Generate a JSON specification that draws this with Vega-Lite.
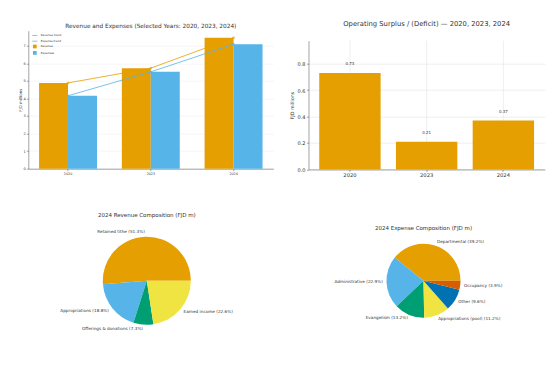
{
  "$schema": "https://vega.github.io/schema/vega-lite/v6.json",
  "background": "white",
  "padding": {"left": 17.3, "top": 20.7, "right": 5, "bottom": 5},
  "columns": 2,
  "bounds": "flush",
  "spacing": {"row": 65.3, "column": 35.2},
  "resolve": {"scale": {"color": "independent", "stroke": "independent", "theta": "independent"}, "legend": {"color": "independent", "stroke": "independent"}},
  "config": {
    "font": "DejaVu Sans",
    "view": {"stroke": null},
    "axis": {"labelFont": "DejaVu Sans", "titleFont": "DejaVu Sans", "domainColor": "#666", "tickColor": "#666", "labelColor": "#333", "titleColor": "#333", "titleFontWeight": "normal", "domainWidth": 0.6, "tickWidth": 0.6, "gridWidth": 0.5},
    "legend": {"labelFont": "DejaVu Sans", "labelColor": "#333"},
    "title": {"font": "DejaVu Sans", "fontWeight": "normal", "color": "#333"},
    "text": {"font": "DejaVu Sans"}
  },
  "datasets": {
    "fin": [
      {"year": "2020", "series": "Revenue", "trend": "Revenue trend", "value": 4.88},
      {"year": "2020", "series": "Expenses", "trend": "Expense trend", "value": 4.15},
      {"year": "2023", "series": "Revenue", "trend": "Revenue trend", "value": 5.72},
      {"year": "2023", "series": "Expenses", "trend": "Expense trend", "value": 5.51},
      {"year": "2024", "series": "Revenue", "trend": "Revenue trend", "value": 7.45},
      {"year": "2024", "series": "Expenses", "trend": "Expense trend", "value": 7.08}
    ],
    "surplus": [
      {"year": "2020", "surplus": 0.73},
      {"year": "2023", "surplus": 0.21},
      {"year": "2024", "surplus": 0.37}
    ],
    "rev": [
      {"category": "Retained tithe", "share": 51.3, "label": "Retained tithe (51.3%)"},
      {"category": "Appropriations", "share": 18.8, "label": "Appropriations (18.8%)"},
      {"category": "Offerings & donations", "share": 7.3, "label": "Offerings & donations (7.3%)"},
      {"category": "Earned income", "share": 22.6, "label": "Earned income (22.6%)"}
    ],
    "exp": [
      {"category": "Departmental", "share": 39.2, "label": "Departmental (39.2%)"},
      {"category": "Administrative", "share": 22.9, "label": "Administrative (22.9%)"},
      {"category": "Evangelism", "share": 13.2, "label": "Evangelism (13.2%)"},
      {"category": "Appropriations (pool)", "share": 11.2, "label": "Appropriations (pool) (11.2%)"},
      {"category": "Other", "share": 9.6, "label": "Other (9.6%)"},
      {"category": "Occupancy", "share": 3.9, "label": "Occupancy (3.9%)"}
    ]
  },
  "concat": [
    {
      "width": 245,
      "height": 138,
      "title": {"text": "Revenue and Expenses (Selected Years: 2020, 2023, 2024)", "fontSize": 5.8, "offset": 2},
      "data": {"name": "fin"},
      "encoding": {
        "x": {"field": "year", "type": "nominal", "scale": {"paddingInner": 0.3, "paddingOuter": 0.13},
          "axis": {"title": null, "labelAngle": 0, "labelFontSize": 3.3, "tickSize": 2, "labelPadding": 1}}
      },
      "layer": [
        {
          "mark": {"type": "bar"},
          "encoding": {
            "xOffset": {"field": "series", "type": "nominal", "sort": ["Revenue", "Expenses"]},
            "y": {"field": "value", "type": "quantitative", "scale": {"domain": [0, 7.85], "nice": false},
              "axis": {"title": "FJD millions", "titleFontSize": 4, "values": [0, 1, 2, 3, 4, 5, 6, 7], "labelFontSize": 3.5, "tickSize": 2, "labelPadding": 1, "titlePadding": 1, "grid": true, "gridColor": "#eeeeee"}},
            "color": {"field": "series", "type": "nominal", "scale": {"domain": ["Revenue", "Expenses"], "range": ["#E69F00", "#56B4E9"]},
              "legend": {"orient": "none", "legendX": 3.5, "legendY": 12.8, "title": null, "labelFontSize": 2.8, "symbolType": "square", "symbolSize": 14, "rowPadding": 1.4, "labelOffset": 3, "padding": 0}}
          }
        },
        {
          "mark": {"type": "line", "strokeWidth": 0.8, "point": {"filled": false, "size": 3, "strokeWidth": 0.8}},
          "encoding": {
            "y": {"field": "value", "type": "quantitative",
              "axis": {"title": "FJD millions", "titleFontSize": 4, "values": [0, 1, 2, 3, 4, 5, 6, 7], "labelFontSize": 3.5, "tickSize": 2, "labelPadding": 1, "titlePadding": 1, "grid": true, "gridColor": "#eeeeee"}},
            "stroke": {"field": "trend", "type": "nominal", "scale": {"domain": ["Revenue trend", "Expense trend"], "range": ["#E69F00", "#56B4E9"]},
              "legend": {"orient": "none", "legendX": 3.5, "legendY": 1.8, "title": null, "labelFontSize": 2.8, "symbolType": "stroke", "symbolSize": 25, "symbolStrokeWidth": 0.8, "rowPadding": 0.7, "labelOffset": 3, "padding": 0}}
          }
        }
      ]
    },
    {
      "width": 236.3,
      "height": 138.7,
      "title": {"text": "Operating Surplus / (Deficit) — 2020, 2023, 2024", "fontSize": 6.8, "offset": 2.5},
      "data": {"name": "surplus"},
      "encoding": {
        "x": {"field": "year", "type": "nominal", "scale": {"paddingInner": 0.2, "paddingOuter": 0.14},
          "axis": {"title": null, "labelAngle": 0, "labelFontSize": 5.2, "tickSize": 2, "labelPadding": 1.5}}
      },
      "layer": [
        {
          "mark": {"type": "rule", "color": "#dedede", "strokeWidth": 0.5},
          "encoding": {
            "y": {"datum": 0, "type": "quantitative", "scale": {"domain": [0, 0.975], "nice": false, "range": [138.7, 10]},
              "axis": {"title": "FJD millions", "titleFontSize": 4.8, "values": [0, 0.2, 0.4, 0.6, 0.8], "format": ".1f", "labelFontSize": 5, "grid": true, "gridColor": "#dedede", "tickSize": 2, "labelPadding": 1.5, "titlePadding": 3}},
            "y2": {"datum": 0.975}
          }
        },
        {
          "mark": {"type": "bar", "color": "#E69F00"},
          "encoding": {
            "y": {"field": "surplus", "type": "quantitative",
              "axis": {"title": "FJD millions", "titleFontSize": 4.8, "values": [0, 0.2, 0.4, 0.6, 0.8], "format": ".1f", "labelFontSize": 5, "grid": true, "gridColor": "#dedede", "tickSize": 2, "labelPadding": 1.5, "titlePadding": 3}}
          }
        },
        {
          "mark": {"type": "text", "dy": -9, "fontSize": 4, "color": "#333", "baseline": "middle"},
          "encoding": {
            "y": {"field": "surplus", "type": "quantitative",
              "axis": {"title": "FJD millions", "titleFontSize": 4.8, "values": [0, 0.2, 0.4, 0.6, 0.8], "format": ".1f", "labelFontSize": 5, "grid": true, "gridColor": "#dedede", "tickSize": 2, "labelPadding": 1.5, "titlePadding": 3}},
            "text": {"field": "surplus", "type": "quantitative", "format": ".2f"}
          }
        }
      ]
    },
    {
      "width": 237,
      "height": 91.5,
      "title": {"text": "2024 Revenue Composition (FJD m)", "fontSize": 5.5, "offset": 12},
      "data": {"name": "rev"},
      "transform": [{"window": [{"op": "row_number", "as": "i"}]}],
      "encoding": {
        "theta": {"field": "share", "type": "quantitative", "stack": true, "scale": {"range": [1.5708, -4.7124]}},
        "order": {"field": "i", "type": "quantitative"}
      },
      "layer": [
        {
          "mark": {"type": "arc", "outerRadius": 44},
          "encoding": {
            "color": {"field": "category", "type": "nominal",
              "scale": {"domain": ["Retained tithe", "Appropriations", "Offerings & donations", "Earned income"], "range": ["#E69F00", "#56B4E9", "#009E73", "#F0E442"]},
              "legend": null}
          }
        },
        {
          "mark": {"type": "text", "radius": 48.4, "align": "left", "baseline": "middle", "fontSize": 4.2, "color": "#333"},
          "encoding": {
            "text": {"condition": {"test": {"field": "category", "oneOf": ["Earned income"]}, "field": "label", "type": "nominal"}, "value": ""}
          }
        },
        {
          "mark": {"type": "text", "radius": 48.4, "align": "right", "baseline": "middle", "fontSize": 4.2, "color": "#333"},
          "encoding": {
            "text": {"condition": {"test": {"not": {"field": "category", "oneOf": ["Earned income"]}}, "field": "label", "type": "nominal"}, "value": ""}
          }
        }
      ]
    },
    {
      "width": 230,
      "height": 91.5,
      "title": {"text": "2024 Expense Composition (FJD m)", "fontSize": 5.5, "offset": 3},
      "data": {"name": "exp"},
      "transform": [{"window": [{"op": "row_number", "as": "i"}]}],
      "encoding": {
        "theta": {"field": "share", "type": "quantitative", "stack": true, "scale": {"range": [1.5708, -4.7124]}},
        "order": {"field": "i", "type": "quantitative"}
      },
      "layer": [
        {
          "mark": {"type": "arc", "outerRadius": 37},
          "encoding": {
            "color": {"field": "category", "type": "nominal",
              "scale": {"domain": ["Departmental", "Administrative", "Evangelism", "Appropriations (pool)", "Other", "Occupancy"], "range": ["#E69F00", "#56B4E9", "#009E73", "#F0E442", "#0072B2", "#D55E00"]},
              "legend": null}
          }
        },
        {
          "mark": {"type": "text", "radius": 40.7, "align": "left", "baseline": "middle", "fontSize": 4.2, "color": "#333"},
          "encoding": {
            "text": {"condition": {"test": {"field": "category", "oneOf": ["Departmental", "Appropriations (pool)", "Other", "Occupancy"]}, "field": "label", "type": "nominal"}, "value": ""}
          }
        },
        {
          "mark": {"type": "text", "radius": 40.7, "align": "right", "baseline": "middle", "fontSize": 4.2, "color": "#333"},
          "encoding": {
            "text": {"condition": {"test": {"field": "category", "oneOf": ["Administrative", "Evangelism"]}, "field": "label", "type": "nominal"}, "value": ""}
          }
        }
      ]
    }
  ]
}
